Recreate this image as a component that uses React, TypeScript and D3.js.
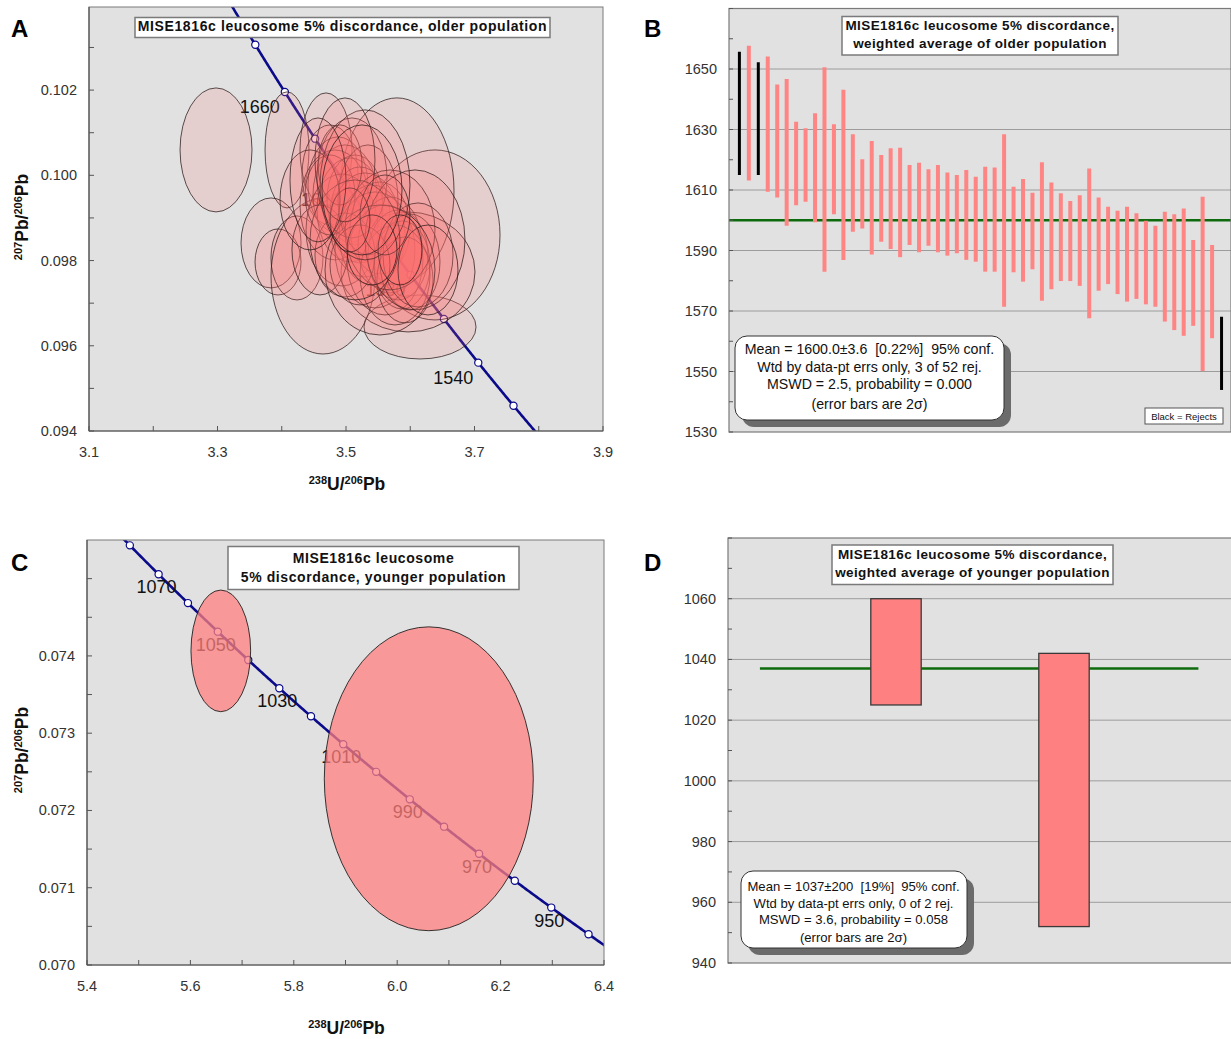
import React from "react";
import * as d3 from "d3";

const FONT = "'Liberation Sans', Arial, Helvetica, sans-serif";
const PLOT_BG = "#e1e1e1";

// U decay constants (1/yr) and present-day 238U/235U
const LAMBDA_238 = 1.55125e-10;
const LAMBDA_235 = 9.8485e-10;
const U_RATIO = 137.88;

// Tera-Wasserburg concordia point for an age in Ma
function tw(tMa: number): [number, number] {
  const e8 = Math.expm1(LAMBDA_238 * tMa * 1e6);
  const e5 = Math.expm1(LAMBDA_235 * tMa * 1e6);
  return [1 / e8, e5 / e8 / U_RATIO];
}

// ---------- A: older population, 2σ error ellipses ----------
const olderU238 = [
  3.2977, 3.4082, 3.3833, 3.3942, 3.4237, 3.4642, 3.6152, 3.6385, 3.5794, 3.4689,
  3.5965, 3.4751, 3.4875, 3.4984, 3.4829, 3.5062, 3.514, 3.5218, 3.4938, 3.5296,
  3.5405, 3.5529, 3.5451, 3.5685, 3.5607, 3.5809, 3.5872, 3.5763, 3.5918, 3.5996,
  3.4984, 3.4595, 3.4751, 3.5093, 3.5342, 3.5685, 3.6121, 3.5218, 3.4907, 3.6074,
  3.5529, 3.514, 3.444, 3.6276, 3.5296, 3.5607, 3.5841, 3.5405, 3.5062, 3.4984,
  3.4564, 3.5249,
];
const olderPb207 = [
  0.100596, 0.100596, 0.098413, 0.097967, 0.098061, 0.097638, 0.096441, 0.098601, 0.099634, 0.100596,
  0.097732, 0.100009, 0.099775, 0.09954, 0.099305, 0.099188, 0.099423, 0.09907, 0.098718, 0.098836,
  0.098601, 0.098765, 0.098249, 0.098366, 0.098014, 0.098131, 0.097897, 0.097662, 0.097545, 0.097967,
  0.098131, 0.098249, 0.09954, 0.099939, 0.099423, 0.098718, 0.098131, 0.097897, 0.100244, 0.098484,
  0.097779, 0.098484, 0.099423, 0.097779, 0.099775, 0.09907, 0.098249, 0.098249, 0.098953, 0.100362,
  0.099892, 0.099657,
];
const olderErrU = [
  0.056, 0.0342, 0.0467, 0.0358, 0.0405, 0.0809, 0.0872, 0.1012, 0.0887, 0.0405,
  0.1043, 0.0436, 0.0467, 0.0498, 0.0545, 0.0514, 0.0436, 0.0467, 0.056, 0.0545,
  0.0514, 0.0467, 0.0623, 0.0498, 0.0591, 0.0467, 0.0436, 0.0545, 0.0436, 0.0467,
  0.0467, 0.0436, 0.0389, 0.0545, 0.0467, 0.07, 0.0545, 0.0467, 0.0342, 0.0778,
  0.0856, 0.07, 0.0467, 0.0467, 0.07, 0.0389, 0.0342, 0.0389, 0.0311, 0.0467,
  0.0436, 0.0623,
];
const olderErrPb = [
  0.001455, 0.001362, 0.001056, 0.000775, 0.000986, 0.001831, 0.000751, 0.001995, 0.002183, 0.001338,
  0.001408, 0.001174, 0.001127, 0.001174, 0.001291, 0.001221, 0.001056, 0.001127, 0.001315, 0.001221,
  0.001174, 0.00108, 0.001362, 0.001127, 0.001291, 0.001056, 0.001033, 0.001174, 0.001009, 0.001127,
  0.000986, 0.001056, 0.000939, 0.001408, 0.001291, 0.001408, 0.001221, 0.000939, 0.000939, 0.001643,
  0.001526, 0.001408, 0.001174, 0.001056, 0.001761, 0.000939, 0.000822, 0.000822, 0.000751, 0.001455,
  0.001455, 0.001526,
];
const olderXTicks = [3.1, 3.2, 3.3, 3.4, 3.5, 3.6, 3.7, 3.8, 3.9];
const olderXLabels = [3.1, 3.3, 3.5, 3.7, 3.9];
const olderYTicks = [0.094, 0.095, 0.096, 0.097, 0.098, 0.099, 0.1, 0.101, 0.102, 0.103];
const olderYLabels = [0.094, 0.096, 0.098, 0.1, 0.102];
const olderMarkerAges = [1500, 1520, 1540, 1560, 1580, 1600, 1620, 1640, 1660, 1680, 1700, 1720];
const olderLabelAges = [1540, 1580, 1620, 1660];

// ---------- C: younger population, 2σ error ellipses ----------
const youngerU238 = [5.6588, 6.0611];
const youngerPb207 = [0.074065, 0.07241];
const youngerErrU = [0.0577, 0.2021];
const youngerErrPb = [0.000787, 0.001966];
const youngerXTicks = [5.4, 5.5, 5.6, 5.7, 5.8, 5.9, 6.0, 6.1, 6.2, 6.3, 6.4];
const youngerXLabels = [5.4, 5.6, 5.8, 6.0, 6.2, 6.4];
const youngerYTicks = [0.07, 0.0705, 0.071, 0.0715, 0.072, 0.0725, 0.073, 0.0735, 0.074, 0.0745, 0.075];
const youngerYLabels = [0.07, 0.071, 0.072, 0.073, 0.074];
const youngerMarkerAges = [930, 940, 950, 960, 970, 980, 990, 1000, 1010, 1020, 1030, 1040, 1050, 1060, 1070, 1080, 1090];
const youngerLabelAges = [950, 970, 990, 1010, 1030, 1050, 1070];

// ---------- B: weighted average, older population (2σ age ranges, Ma) ----------
const olderAgeHigh = [
  1655.7, 1657.7, 1652.2, 1654.1, 1644.9, 1646.7, 1632.6, 1630.4, 1635.4, 1650.6,
  1631.7, 1643.1, 1628.4, 1620.2, 1626.2, 1621.6, 1623.8, 1624.0, 1618.3, 1619.0,
  1616.9, 1618.3, 1615.8, 1615.0, 1616.6, 1614.4, 1617.7, 1617.4, 1628.4, 1611.1,
  1613.6, 1609.1, 1619.2, 1612.5, 1608.9, 1606.4, 1608.3, 1617.1, 1607.5, 1604.5,
  1603.1, 1604.5, 1602.3, 1599.8, 1598.2, 1602.8, 1602.0, 1603.9, 1593.5, 1607.8,
  1591.8, 1568.1,
];
const olderAgeLow = [
  1615.0, 1613.1, 1615.0, 1609.4, 1607.5, 1598.2, 1605.0, 1606.1, 1599.3, 1583.0,
  1602.0, 1586.9, 1596.2, 1597.3, 1588.7, 1592.9, 1590.5, 1587.8, 1591.8, 1589.4,
  1591.6, 1589.4, 1588.3, 1589.1, 1586.9, 1586.3, 1583.0, 1583.0, 1571.4, 1582.8,
  1579.7, 1583.8, 1573.4, 1577.2, 1579.9, 1579.9, 1578.3, 1567.6, 1576.7, 1578.9,
  1575.6, 1573.1, 1574.0, 1572.2, 1571.4, 1566.5, 1563.7, 1561.8, 1565.1, 1550.2,
  1561.0, 1543.9,
];
const olderRejected = [0, 2, 51];
const olderMean = 1600.0;
const olderAgeLabels = [1530, 1550, 1570, 1590, 1610, 1630, 1650];
const olderAgeGrid = [1550, 1570, 1590, 1610, 1630, 1650];
const olderAgeTicks = [1530, 1540, 1550, 1560, 1570, 1580, 1590, 1600, 1610, 1620, 1630, 1640, 1650, 1660, 1670];
const olderStats = [
  "Mean = 1600.0±3.6  [0.22%]  95% conf.",
  "Wtd by data-pt errs only, 3 of 52 rej.",
  "MSWD = 2.5, probability = 0.000",
  "(error bars are 2σ)",
];

// ---------- D: weighted average, younger population ----------
const youngerAgeHigh = [1060, 1042];
const youngerAgeLow = [1025, 952];
const youngerMean = 1037;
const youngerAgeLabels = [940, 960, 980, 1000, 1020, 1040, 1060];
const youngerAgeGrid = [960, 980, 1000, 1020, 1040, 1060];
const youngerAgeTicks = [940, 950, 960, 970, 980, 990, 1000, 1010, 1020, 1030, 1040, 1050, 1060, 1070, 1080];
const youngerStats = [
  "Mean = 1037±200  [19%]  95% conf.",
  "Wtd by data-pt errs only, 0 of 2 rej.",
  "MSWD = 3.6, probability = 0.058",
  "(error bars are 2σ)",
];

type Box = { x0: number; y0: number; x1: number; y1: number };

function TitleBox({
  box, lines, cx, baselines, size, spacing,
}: { box: Box; lines: string[]; cx: number; baselines: number[]; size: number; spacing: number }) {
  return (
    <g>
      <rect x={box.x0} y={box.y0} width={box.x1 - box.x0} height={box.y1 - box.y0} fill="#fff" stroke="#7a7a7a" strokeWidth={1.5} />
      {lines.map((l, i) => (
        <text key={i} x={cx} y={baselines[i]} textAnchor="middle" fontWeight="bold" fontSize={size} letterSpacing={spacing} fill="#111">
          {l}
        </text>
      ))}
    </g>
  );
}

function IsotopeLabel({ x, y, rotate, a, b }: { x: number; y: number; rotate?: boolean; a: [string, string]; b: [string, string] }) {
  return (
    <text transform={`translate(${x},${y})${rotate ? " rotate(-90)" : ""}`} textAnchor="middle" fontWeight="bold" fontSize={17.5} fill="#111">
      <tspan fontSize={11} dy={-6.5}>{a[0]}</tspan>
      <tspan dy={6.5}>{a[1]}</tspan>
      <tspan fontSize={11} dy={-6.5}>{b[0]}</tspan>
      <tspan dy={6.5}>{b[1]}</tspan>
    </text>
  );
}

type ConcProps = {
  id: string;
  left: number; top: number; right: number; bottom: number;
  xDomain: [number, number]; yDomain: [number, number];
  xTicks: number[]; xLabels: number[]; xFmt: (v: number) => string;
  yTicks: number[]; yLabels: number[]; yFmt: (v: number) => string;
  curve: [number, number];
  markers: number[]; labels: number[]; labelDx: number; labelDy: number;
  cx: number[]; cy: number[]; hx: number[]; hy: number[];
  fill: string; fillOpacity: number; stroke: string; strokeOpacity: number;
  yTitleY: number; xTitleY: number;
};

function ConcordiaPanel(p: ConcProps) {
  const x = d3.scaleLinear().domain(p.xDomain).range([p.left, p.right]);
  const y = d3.scaleLinear().domain(p.yDomain).range([p.bottom, p.top]);
  const ages = d3.range(p.curve[0], p.curve[1] + 0.25, 0.5);
  const line = d3
    .line<number>()
    .x((t) => x(tw(t)[0]))
    .y((t) => y(tw(t)[1]));
  const clipId = `clip-${p.id}`;
  return (
    <g>
      <defs>
        <clipPath id={clipId}>
          <rect x={p.left} y={p.top} width={p.right - p.left} height={p.bottom - p.top} />
        </clipPath>
      </defs>
      <rect x={p.left} y={p.top} width={p.right - p.left} height={p.bottom - p.top} fill={PLOT_BG} />
      <g clipPath={`url(#${clipId})`}>
        <path d={line(ages) || ""} fill="none" stroke="#0a0a8a" strokeWidth={2.6} />
        {p.markers.map((t) => {
          const [u, pb] = tw(t);
          return <circle key={t} cx={x(u)} cy={y(pb)} r={3.6} fill="#fff" stroke="#0a0a8a" strokeWidth={1.2} />;
        })}
        {p.labels.map((t) => {
          const [u, pb] = tw(t);
          return (
            <text key={t} x={x(u) + p.labelDx} y={y(pb) + p.labelDy} textAnchor="middle" fontSize={18} fill="#111">
              {t}
            </text>
          );
        })}
        {p.cx.map((c, i) => (
          <ellipse
            key={i}
            cx={x(c)}
            cy={y(p.cy[i])}
            rx={x(c + p.hx[i]) - x(c)}
            ry={y(p.cy[i]) - y(p.cy[i] + p.hy[i])}
            fill={p.fill}
            fillOpacity={p.fillOpacity}
            stroke={p.stroke}
            strokeOpacity={p.strokeOpacity}
            strokeWidth={1}
          />
        ))}
      </g>
      <rect x={p.left} y={p.top} width={p.right - p.left} height={p.bottom - p.top} fill="none" stroke="#7a7a7a" strokeWidth={1} />
      <line x1={p.left} x2={p.left} y1={p.top} y2={p.bottom} stroke="#555" strokeWidth={1.2} />
      <line x1={p.left} x2={p.right} y1={p.bottom} y2={p.bottom} stroke="#555" strokeWidth={1.2} />
      {p.xTicks.map((v) => (
        <line key={`xt${v}`} x1={x(v)} x2={x(v)} y1={p.bottom} y2={p.bottom - 5} stroke="#555" />
      ))}
      {p.yTicks.map((v) => (
        <line key={`yt${v}`} x1={p.left} x2={p.left + 5} y1={y(v)} y2={y(v)} stroke="#555" />
      ))}
      {p.xLabels.map((v) => (
        <text key={`xl${v}`} x={x(v)} y={p.bottom + 26} textAnchor="middle" fontSize={14.5} fill="#333">
          {p.xFmt(v)}
        </text>
      ))}
      {p.yLabels.map((v) => (
        <text key={`yl${v}`} x={p.left - 12} y={y(v) + 5} textAnchor="end" fontSize={14.5} fill="#333">
          {p.yFmt(v)}
        </text>
      ))}
      <IsotopeLabel x={(p.left + p.right) / 2 + 1} y={p.xTitleY} a={["238", "U/"]} b={["206", "Pb"]} />
      <IsotopeLabel x={28} y={p.yTitleY} rotate a={["207", "Pb/"]} b={["206", "Pb"]} />
    </g>
  );
}

type WtdProps = {
  id: string;
  left: number; top: number; right: number; bottom: number;
  xDomain: [number, number]; yDomain: [number, number];
  high: number[]; low: number[]; rejected: number[];
  boxes: boolean; barHalf: number;
  mean: number; meanExtent: [number, number];
  labels: number[]; grid: number[]; ticks: number[];
  stats: string[]; statsBox: Box; statsCx: number; statsBase: number[]; statsSize: number;
  legend?: boolean;
};

function WeightedPanel(p: WtdProps) {
  const x = d3.scaleLinear().domain(p.xDomain).range([p.left, p.right]);
  const y = d3.scaleLinear().domain(p.yDomain).range([p.bottom, p.top]);
  const clipId = `clip-${p.id}`;
  const sb = p.statsBox;
  return (
    <g>
      <defs>
        <clipPath id={clipId}>
          <rect x={p.left} y={p.top} width={p.right - p.left} height={p.bottom - p.top} />
        </clipPath>
      </defs>
      <rect x={p.left} y={p.top} width={p.right - p.left} height={p.bottom - p.top} fill={PLOT_BG} />
      {p.grid.map((v) => (
        <line key={`g${v}`} x1={p.left} x2={p.right} y1={y(v)} y2={y(v)} stroke="#9c9c9c" strokeWidth={1} />
      ))}
      <g clipPath={`url(#${clipId})`}>
        <line x1={x(p.meanExtent[0])} x2={x(p.meanExtent[1])} y1={y(p.mean)} y2={y(p.mean)} stroke="#0d6b0d" strokeWidth={2.4} />
        {p.high.map((h, i) => {
          const rej = p.rejected.includes(i);
          if (p.boxes) {
            return (
              <rect
                key={i}
                x={x(i - p.barHalf)}
                y={y(h)}
                width={x(i + p.barHalf) - x(i - p.barHalf)}
                height={y(p.low[i]) - y(h)}
                fill={rej ? "#000" : "#ff8080"}
                stroke="#3a3a3a"
                strokeWidth={1.3}
              />
            );
          }
          return (
            <line
              key={i}
              x1={x(i)}
              x2={x(i)}
              y1={y(h)}
              y2={y(p.low[i])}
              stroke={rej ? "#000" : "#ff8585"}
              strokeWidth={rej ? 3 : 4}
            />
          );
        })}
      </g>
      <rect x={p.left} y={p.top} width={p.right - p.left} height={p.bottom - p.top} fill="none" stroke="#7a7a7a" strokeWidth={1.2} />
      {p.ticks.map((v) => (
        <line key={`t${v}`} x1={p.left} x2={p.left + 4} y1={y(v)} y2={y(v)} stroke="#555" />
      ))}
      {p.labels.map((v) => (
        <text key={`l${v}`} x={p.left - 12} y={y(v) + 5} textAnchor="end" fontSize={14.5} fill="#333">
          {v}
        </text>
      ))}
      <rect x={sb.x0 + 7} y={sb.y0 + 7} width={sb.x1 - sb.x0} height={sb.y1 - sb.y0} rx={12} fill="#6b6b6b" />
      <rect x={sb.x0} y={sb.y0} width={sb.x1 - sb.x0} height={sb.y1 - sb.y0} rx={12} fill="#fff" stroke="#333" strokeWidth={1} />
      {p.stats.map((s, i) => (
        <text
          key={i}
          x={p.statsCx}
          y={p.statsBase[i]}
          textAnchor="middle"
          fontSize={p.statsSize}
          fill="#111"
          xmlSpace="preserve"
          style={{ whiteSpace: "pre" }}
        >
          {s}
        </text>
      ))}
      {p.legend && (
        <g>
          <rect x={1145} y={408} width={78} height={16} fill="#fff" stroke="#555" strokeWidth={1} />
          <text x={1184} y={419.5} textAnchor="middle" fontSize={9.5} fill="#111">
            Black = Rejects
          </text>
        </g>
      )}
    </g>
  );
}

const fmt1 = d3.format(".1f");
const fmt3 = d3.format(".3f");

export default function App() {
  return (
    <svg
      width={1231}
      height={1039}
      viewBox="0 0 1231 1039"
      style={{ position: "absolute", left: 0, top: 0, background: "#fff" }}
      fontFamily={FONT}
    >
      <rect width={1231} height={1039} fill="#fff" />

      <ConcordiaPanel
        id="a"
        left={89} top={7} right={603} bottom={431}
        xDomain={[3.1, 3.9]} yDomain={[0.094, 0.10395]}
        xTicks={olderXTicks} xLabels={olderXLabels} xFmt={fmt1}
        yTicks={olderYTicks} yLabels={olderYLabels} yFmt={fmt3}
        curve={[1450, 1760]}
        markers={olderMarkerAges} labels={olderLabelAges} labelDx={-25} labelDy={21}
        cx={olderU238} cy={olderPb207} hx={olderErrU} hy={olderErrPb}
        fill="#ff7070" fillOpacity={0.16} stroke="#2a1a1a" strokeOpacity={0.75}
        yTitleY={217} xTitleY={490}
      />
      <TitleBox box={{ x0: 135, y0: 17.5, x1: 550, y1: 37.5 }} lines={["MISE1816c leucosome 5% discordance, older population"]} cx={342.5} baselines={[30.5]} size={14} spacing={0.6} />

      <ConcordiaPanel
        id="c"
        left={87} top={540} right={604} bottom={965}
        xDomain={[5.4, 6.4]} yDomain={[0.07, 0.0755]}
        xTicks={youngerXTicks} xLabels={youngerXLabels} xFmt={fmt1}
        yTicks={youngerYTicks} yLabels={youngerYLabels} yFmt={fmt3}
        curve={[880, 1130]}
        markers={youngerMarkerAges} labels={youngerLabelAges} labelDx={-2} labelDy={19}
        cx={youngerU238} cy={youngerPb207} hx={youngerErrU} hy={youngerErrPb}
        fill="#ff7f7f" fillOpacity={0.75} stroke="#222" strokeOpacity={0.9}
        yTitleY={750} xTitleY={1034}
      />
      <TitleBox box={{ x0: 228, y0: 546.5, x1: 519, y1: 589.5 }} lines={["MISE1816c leucosome", "5% discordance, younger population"]} cx={373.5} baselines={[563, 582]} size={14} spacing={0.6} />

      <WeightedPanel
        id="b"
        left={729} top={8.5} right={1231} bottom={432}
        xDomain={[-1.1, 52]} yDomain={[1530, 1670]}
        high={olderAgeHigh} low={olderAgeLow} rejected={olderRejected}
        boxes={false} barHalf={0}
        mean={olderMean} meanExtent={[-1.1, 52]}
        labels={olderAgeLabels} grid={olderAgeGrid} ticks={olderAgeTicks}
        stats={olderStats} statsBox={{ x0: 735, y0: 336, x1: 1004, y1: 420 }} statsCx={869.5}
        statsBase={[354, 372, 389, 409]} statsSize={14.2}
        legend
      />
      <TitleBox box={{ x0: 842, y0: 16.5, x1: 1118, y1: 55 }} lines={["MISE1816c leucosome 5% discordance,", "weighted average of older population"]} cx={980} baselines={[30, 48]} size={13.5} spacing={0.4} />

      <WeightedPanel
        id="d"
        left={728} top={538} right={1232} bottom={963}
        xDomain={[-1, 2]} yDomain={[940, 1080]}
        high={youngerAgeHigh} low={youngerAgeLow} rejected={[]}
        boxes barHalf={0.15}
        mean={youngerMean} meanExtent={[-0.81, 1.8]}
        labels={youngerAgeLabels} grid={youngerAgeGrid} ticks={youngerAgeTicks}
        stats={youngerStats} statsBox={{ x0: 741, y0: 871, x1: 967, y1: 948 }} statsCx={853.5}
        statsBase={[890.5, 907.5, 924, 941.5]} statsSize={13.1}
      />
      <TitleBox box={{ x0: 832, y0: 545, x1: 1113, y1: 584.5 }} lines={["MISE1816c leucosome 5% discordance,", "weighted average of younger population"]} cx={972.5} baselines={[558.5, 577]} size={13.5} spacing={0.4} />

      {[
        ["A", 11, 37],
        ["B", 644, 37],
        ["C", 11, 571],
        ["D", 644, 571],
      ].map(([t, px, py]) => (
        <text key={t as string} x={px as number} y={py as number} fontSize={24} fontWeight="bold" fill="#000">
          {t}
        </text>
      ))}
    </svg>
  );
}
